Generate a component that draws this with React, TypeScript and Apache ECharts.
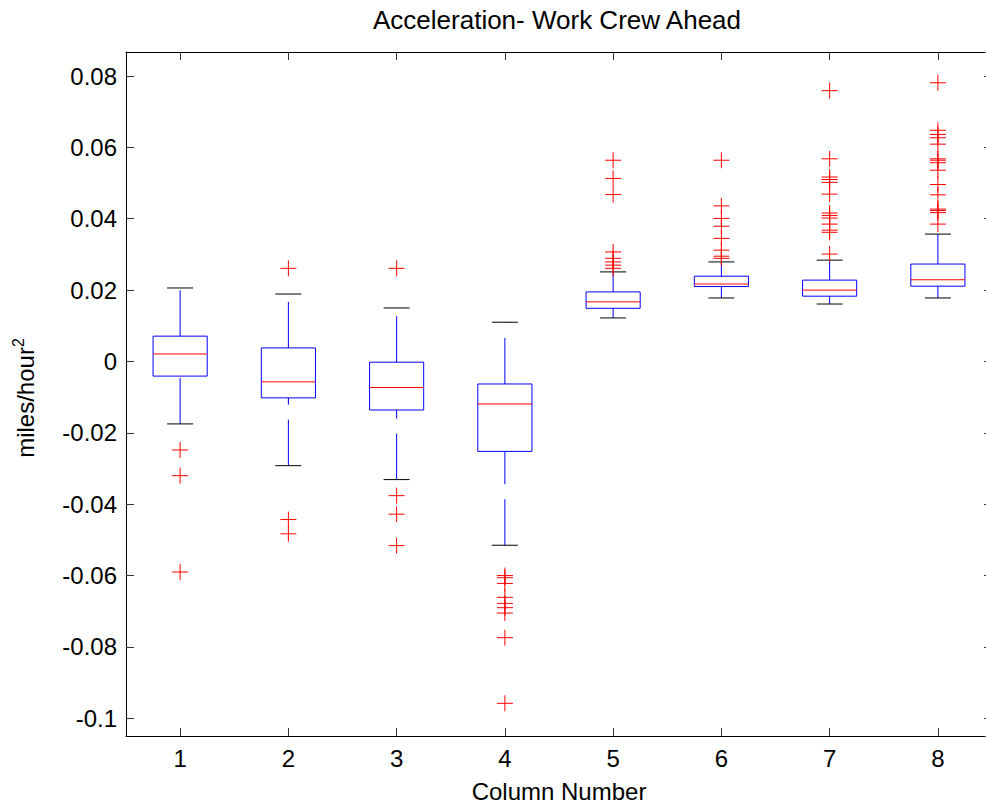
import React, { useEffect, useRef } from "react";
import * as echarts from "echarts";

// ---- data ----
const columns = ["1", "2", "3", "4", "5", "6", "7", "8"];
const lowerWhisker = [-0.0175, -0.0292, -0.0331, -0.0515, 0.0122, 0.0178, 0.0161, 0.0178];
const q1 = [-0.0041, -0.0102, -0.0136, -0.0252, 0.0149, 0.021, 0.0183, 0.0211];
const medians = [0.0021, -0.0057, -0.0073, -0.0119, 0.0167, 0.0217, 0.02, 0.0229];
const q3 = [0.0071, 0.0038, -0.0002, -0.0063, 0.0195, 0.0239, 0.0228, 0.0273];
const upperWhisker = [0.0206, 0.0189, 0.015, 0.011, 0.0251, 0.0279, 0.0284, 0.0357];

const outliers1 = [-0.0248, -0.032, -0.059];
const outliers2 = [0.0261, -0.0443, -0.0483];
const outliers3 = [0.0261, -0.0376, -0.0428, -0.0516];
const outliers4 = [-0.06, -0.0606, -0.0622, -0.0661, -0.0678, -0.069, -0.0705, -0.0774, -0.0958];
const outliers5 = [0.0564, 0.0513, 0.0468, 0.0307, 0.0289, 0.0279, 0.027, 0.0261];
const outliers6 = [0.0564, 0.0436, 0.0401, 0.0379, 0.0345, 0.0312, 0.0295, 0.0289];
const outliers7 = [0.0759, 0.0568, 0.0517, 0.051, 0.0502, 0.0469, 0.0416, 0.0409, 0.0402, 0.0385, 0.0368, 0.0362, 0.0301];
const outliers8 = [0.0781, 0.0648, 0.0636, 0.0627, 0.0609, 0.0568, 0.0564, 0.0557, 0.0536, 0.0496, 0.0467, 0.0427, 0.0423, 0.0417, 0.0385];
const outliers = [outliers1, outliers2, outliers3, outliers4, outliers5, outliers6, outliers7, outliers8];

const yMin = -0.10496;
const yMax = 0.08673;
const yStep = 0.02;

const FONT = "'Liberation Sans', Arial, Helvetica, sans-serif";
const BLUE = "#0000ff";
const RED = "#ff0000";
const BLACK = "#000000";

const BOX_HALF = 0.25; // half box width, in column units
const CAP_HALF = 0.12; // half whisker-cap width, in column units

export default function App() {
  const ref = useRef<HTMLDivElement>(null);

  useEffect(() => {
    const chart = echarts.init(ref.current!, null, { renderer: "svg" });

    const boxPts: any[] = [];
    const medPts: any[] = [];
    const capPts: any[] = [];
    const whiskerPts: any[] = [];
    const outlierPts: number[][] = [];

    columns.forEach((_, i) => {
      const x = i + 1;
      const l = x - BOX_HALF;
      const r = x + BOX_HALF;
      boxPts.push([l, q1[i]], [r, q1[i]], [r, q3[i]], [l, q3[i]], [l, q1[i]], [x, null]);
      medPts.push([l, medians[i]], [r, medians[i]], [x, null]);
      capPts.push(
        [x - CAP_HALF, lowerWhisker[i]], [x + CAP_HALF, lowerWhisker[i]], [x, null],
        [x - CAP_HALF, upperWhisker[i]], [x + CAP_HALF, upperWhisker[i]], [x, null]
      );
      whiskerPts.push(
        [x, lowerWhisker[i]], [x, q1[i]], [x, null],
        [x, q3[i]], [x, upperWhisker[i]], [x, null]
      );
      outliers[i].forEach((v) => outlierPts.push([x, v]));
    });

    const axisLine = { show: true, onZero: false, lineStyle: { color: "#000", width: 1 } };
    const axisTick = { show: true, inside: true, length: 8, lineStyle: { color: "#333", width: 1 } };

    const yCommon = {
      type: "value",
      min: yMin,
      max: yMax,
      splitNumber: 9,
      minInterval: yStep,
      maxInterval: yStep,
      axisLine,
      axisTick,
      splitLine: { show: false },
    };

    const lineSeries = (name: string, data: any[], color: string, type: any, z: number) => ({
      type: "line",
      name,
      xAxisIndex: 2,
      yAxisIndex: 0,
      data,
      showSymbol: false,
      symbol: "none",
      connectNulls: false,
      silent: true,
      emphasis: { disabled: true },
      lineStyle: { color, width: 1, type, opacity: 1 },
      z,
    });

    chart.setOption({
      animation: false,
      textStyle: { fontFamily: FONT },
      title: {
        text: "Acceleration- Work Crew Ahead",
        left: 552,
        top: 2,
        textAlign: "center",
        textStyle: { fontSize: 26, fontWeight: "normal", color: "#000", fontFamily: FONT },
      },
      grid: {
        left: 126,
        top: 52,
        width: 866,
        height: 684,
        containLabel: false,
        outerBoundsMode: "none",
      },
      xAxis: [
        {
          type: "category",
          data: columns,
          position: "bottom",
          boundaryGap: true,
          axisLine,
          axisTick: { ...axisTick, alignWithLabel: true, interval: 0 },
          axisLabel: { fontSize: 24, color: "#000", margin: 10, interval: 0, fontFamily: FONT },
          splitLine: { show: false },
          name: "Column Number",
          nameLocation: "middle",
          nameGap: 43,
          nameTextStyle: { fontSize: 24, color: "#000", fontFamily: FONT },
        },
        {
          type: "category",
          data: columns,
          position: "top",
          boundaryGap: true,
          axisLine,
          axisTick: { ...axisTick, alignWithLabel: true, interval: 0 },
          axisLabel: { show: false },
          splitLine: { show: false },
        },
        {
          type: "value",
          min: 0.5,
          max: columns.length + 0.5,
          show: false,
          position: "bottom",
          splitLine: { show: false },
        },
      ],
      yAxis: [
        {
          ...yCommon,
          position: "left",
          axisLabel: {
            fontSize: 24,
            color: "#000",
            margin: 9,
            showMinLabel: false,
            showMaxLabel: false,
            fontFamily: FONT,
          },
          name: "miles/hour{sup|2}",
          nameLocation: "middle",
          nameRotate: 90,
          nameGap: 86,
          nameTextStyle: {
            fontSize: 24,
            color: "#000",
            fontFamily: FONT,
            lineHeight: 30,
            padding: [0, 8, 0, 0],
            rich: {
              sup: { fontSize: 16, lineHeight: 16, verticalAlign: "top", color: "#000", fontFamily: FONT },
            },
          },
        },
        {
          ...yCommon,
          position: "right",
          axisLabel: { show: false },
        },
      ],
      series: [
        lineSeries("whiskers", whiskerPts, BLUE, [46, 15], 2),
        lineSeries("caps", capPts, BLACK, "solid", 3),
        lineSeries("boxes", boxPts, BLUE, "solid", 4),
        lineSeries("medians", medPts, RED, "solid", 5),
        {
          type: "scatter",
          name: "outliers",
          xAxisIndex: 2,
          yAxisIndex: 0,
          data: outlierPts,
          silent: true,
          emphasis: { disabled: true },
          symbol: "path://M8,0L8,16M0,8L16,8",
          symbolSize: 16,
          itemStyle: { color: "none", borderColor: RED, borderWidth: 1, opacity: 1 },
          z: 6,
        },
      ],
    });

    return () => chart.dispose();
  }, []);

  return (
    <div
      ref={ref}
      style={{ position: "absolute", left: 0, top: 0, width: 986, height: 804, background: "#fff" }}
    />
  );
}
